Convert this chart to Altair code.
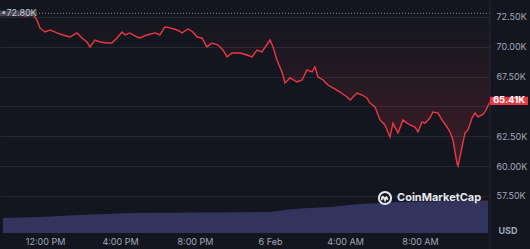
import altair as alt
import pandas as pd

# ---- data ----
# hours since 09:36 (5 Feb)
price_hours = [0.00, 0.80, 1.33, 1.76, 1.97, 2.13, 2.40, 2.67, 3.04, 3.36, 3.73, 4.11, 4.37, 4.64, 4.80,
               5.07, 5.33, 5.71, 5.97, 6.24, 6.51, 6.67, 6.93, 7.31, 7.47, 7.84, 8.27, 8.53, 8.80, 9.07,
               9.44, 9.71, 10.03, 10.29, 10.51, 10.77, 11.04, 11.31, 11.63, 11.89, 12.11, 12.37, 12.80,
               13.17, 13.44, 13.71, 13.97, 14.40, 14.56, 14.77, 15.04, 15.20, 15.47, 15.84, 16.11, 16.37,
               16.64, 16.80, 16.96, 17.23, 17.49, 17.76, 18.13, 18.51, 18.67, 19.04, 19.31, 19.57, 19.73,
               20.00, 20.27, 20.53, 20.80, 20.96, 21.23, 21.49, 21.71, 21.87, 22.13, 22.29, 22.51, 22.67,
               22.93, 23.09, 23.36, 23.57, 23.84, 24.00, 24.16, 24.37, 24.43, 24.64, 24.80, 24.96, 25.17,
               25.33, 25.49, 25.71, 25.87, 26.13]
prices = [72.75, 72.84, 72.58, 72.67, 72.25, 71.58, 71.24, 71.41, 71.16, 70.99, 70.82, 71.16, 70.74, 70.40, 69.99,
          70.57, 70.40, 70.32, 70.32, 70.74, 71.24, 70.99, 71.16, 70.82, 70.74, 70.99, 71.16, 70.99, 71.66, 71.58,
          71.41, 71.16, 71.49, 71.24, 70.82, 70.74, 69.99, 70.32, 70.15, 69.73, 69.15, 69.48, 69.48,
          69.31, 69.15, 69.73, 69.57, 70.57, 69.99, 68.90, 67.89, 66.97, 67.39, 67.05, 67.22, 68.06,
          67.89, 68.31, 67.47, 67.22, 66.80, 66.55, 66.21, 65.79, 65.54, 66.13, 65.96, 65.71, 65.29,
          64.96, 63.87, 63.45, 62.44, 63.61, 62.78, 63.87, 63.61, 63.45, 63.28, 62.86, 63.70, 63.61,
          64.03, 64.54, 64.45, 63.87, 63.28, 62.86, 62.19, 60.26, 60.01, 61.60, 62.78, 63.03, 64.03,
          64.45, 64.12, 64.29, 64.54, 65.41]

volume_hours = [0.16, 2.13, 4.27, 6.93, 10.67, 14.40, 15.20, 16.00, 17.60, 19.20, 21.33, 24.00, 26.03]
volumes_bn = [58, 62, 70, 77, 79, 81, 89, 95, 100, 112, 120, 124, 126]

open_price = 72.80
last_price = 65.41

x_tick_hours = [2.4, 6.4, 10.4, 14.4, 18.4, 22.4]
x_tick_labels = ["12:00 PM", "4:00 PM", "8:00 PM", "6 Feb", "4:00 AM", "8:00 AM"]
y_tick_values = [57.5, 60.0, 62.5, 65.0, 67.5, 70.0, 72.5]
y_hidden_label = 65.0  # covered by the last-price badge in the reference

# ---- styling ----
BG = "#13161f"
GRID = "#252834"
RED = "#ea3943"
LABEL = "#a1a7bb"
FONT = "Inter"

price_df = pd.DataFrame({"h": price_hours, "price": prices})
vol_df = pd.DataFrame({"h": volume_hours, "vol": volumes_bn})
open_df = pd.DataFrame({"price": [open_price], "h": [price_hours[0]], "txt": ["\u2022" + f"{open_price:.2f}K"]})
last_df = pd.DataFrame({"price": [last_price], "txt": [f"{last_price:.2f}K"]})

label_expr = "".join(
    f"datum.value == {v} ? '{t}' : " for v, t in zip(x_tick_hours, x_tick_labels)
) + "''"

x_scale = alt.Scale(domain=[0, 490 / 75 * 4], nice=False, zero=False)
x_enc = alt.X(
    "h:Q",
    scale=x_scale,
    axis=alt.Axis(values=x_tick_hours, labelExpr=label_expr, grid=False, domain=False, ticks=False,
                  labelColor=LABEL, labelFontSize=9, labelFont=FONT, labelPadding=4, title=None,
                  labelFlush=False, labelOverlap=False, tickCount=20),
)
y_scale = alt.Scale(domain=[54.40, 73.92], nice=False, zero=False)
y_enc = alt.Y(
    "price:Q",
    scale=y_scale,
    axis=alt.Axis(orient="right", values=y_tick_values,
                  labelExpr=f"datum.value == {y_hidden_label} ? '' : format(datum.value, '.2f') + 'K'",
                  grid=True, gridColor=GRID, gridWidth=1, domain=False, ticks=False, labelColor=LABEL,
                  labelFontSize=9, labelFont=FONT, labelPadding=6, title=None, labelOverlap=False,
                  tickCount=20),
)

base = alt.Chart(price_df)

fill_area = base.mark_area(
    color=alt.Gradient(
        gradient="linear",
        stops=[alt.GradientStop(color="rgba(234,57,67,0.0)", offset=0),
               alt.GradientStop(color="rgba(234,57,67,0.2)", offset=1)],
        x1=0, x2=0, y1=0, y2=1,
    )
).encode(x=x_enc, y=y_enc, y2=alt.datum(open_price))

open_rule = alt.Chart(open_df).mark_rule(color="#9a9fb0", strokeDash=[1, 2], strokeWidth=1, opacity=0.8).encode(
    y=alt.Y("price:Q", scale=y_scale)
)

line = base.mark_line(color=RED, strokeWidth=1.4).encode(x=x_enc, y=y_enc)

open_box = alt.Chart(open_df).mark_point(
    shape="M-1,-0.16L1,-0.16L1,0.16L-1,0.16Z", filled=True, color="#4a4d5c", opacity=0.85, size=37 * 37,
    strokeWidth=0,
).encode(x=alt.value(18.5), y=alt.Y("price:Q", scale=y_scale))
open_text = alt.Chart(open_df).mark_text(
    color="#c3c6d0", fontSize=9, font=FONT, align="center", baseline="middle"
).encode(x=alt.value(19), y=alt.Y("price:Q", scale=y_scale), text="txt:N")

last_box = alt.Chart(last_df).mark_point(
    shape="M-1,-0.26L1,-0.26L1,0.18L-1,0.18Z", filled=True, color=RED, opacity=1, size=38 * 38, strokeWidth=0,
).encode(x=alt.value(509), y=alt.Y("price:Q", scale=y_scale))
last_text = alt.Chart(last_df).mark_text(
    color="white", fontSize=9.5, font=FONT, fontWeight="bold", align="center", baseline="middle", dy=-1.5
).encode(x=alt.value(509), y=alt.Y("price:Q", scale=y_scale), text="txt:N")

sep_rule = alt.Chart(last_df).mark_rule(color=GRID, strokeWidth=1).encode(
    x=alt.value(490), y=alt.value(0), y2=alt.value(249)
)

logo_ring = alt.Chart(last_df).mark_point(
    shape="circle", filled=False, color="#e6e8ee", size=150, strokeWidth=2, opacity=1
).encode(x=alt.value(385), y=alt.value(198))
logo_m = alt.Chart(last_df).mark_point(
    shape="M-0.6,0.45L-0.6,0Q-0.45,-0.5 -0.2,0L0,0.4Q0.2,-0.45 0.35,-0.05L0.5,0.35",
    filled=False, color="#e6e8ee", size=110, strokeWidth=1.8, opacity=1
).encode(x=alt.value(385), y=alt.value(198))
logo_text = alt.Chart(last_df).mark_text(
    text="CoinMarketCap", color="#e6e8ee", fontSize=11, font=FONT, fontWeight="bold", align="left",
    baseline="middle"
).encode(x=alt.value(397), y=alt.value(198))

usd_text = alt.Chart(last_df).mark_text(
    text="USD", color=LABEL, fontSize=9, font=FONT, fontWeight="bold", align="center", baseline="middle"
).encode(x=alt.value(508), y=alt.value(231))

price_layers = alt.layer(
    fill_area, open_rule, line, sep_rule, open_box, open_text, last_box, last_text,
    logo_ring, logo_m, logo_text, usd_text
)

volume = alt.Chart(vol_df).mark_area(color="#33345e", opacity=1).encode(
    x=alt.X("h:Q", scale=x_scale),
    y=alt.Y("vol:Q", scale=alt.Scale(domain=[0, 900], nice=False), axis=None),
)

chart = alt.layer(volume, price_layers).resolve_scale(y="independent").properties(
    width=490, height=233,
    autosize=alt.AutoSizeParams(type="none"),
    padding={"left": 0, "top": 0, "right": 40, "bottom": 16},
    background=BG,
).configure_view(stroke=None)

chart.save("out.html", embed_options={"renderer": "svg", "actions": False})
